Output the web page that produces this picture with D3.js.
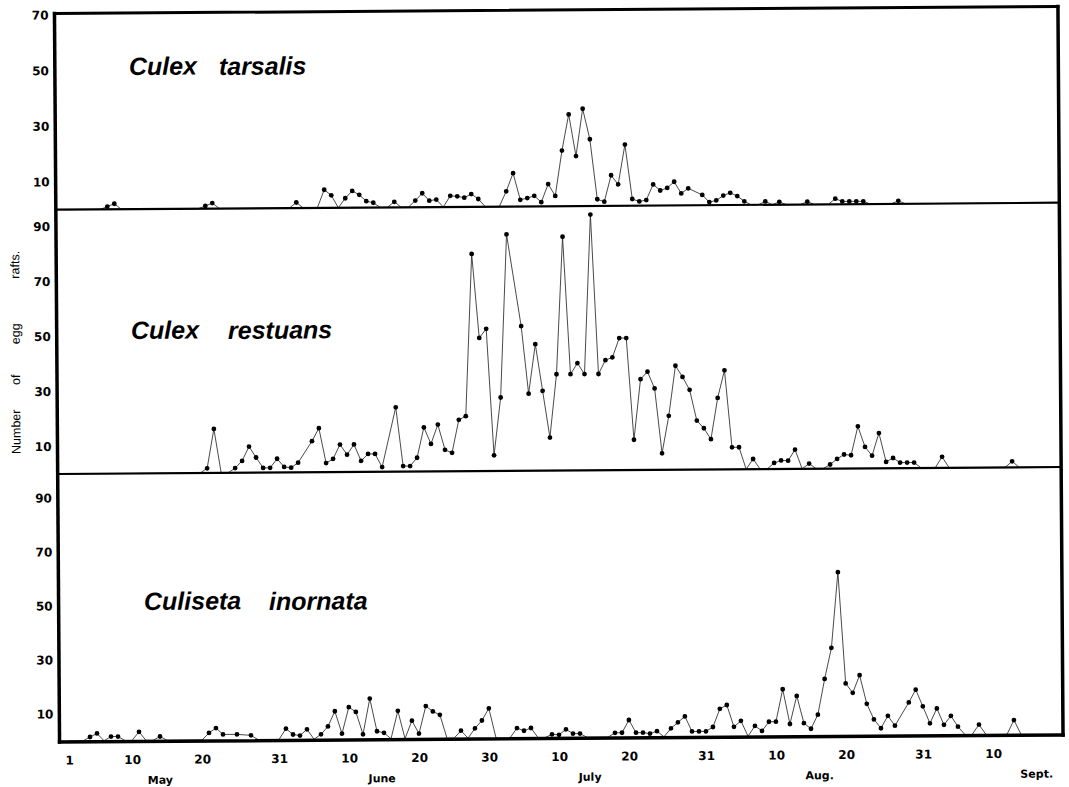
<!DOCTYPE html>
<html>
<head>
<meta charset="utf-8">
<script src="https://cdn.jsdelivr.net/npm/d3@7"></script>
<style>
html,body{margin:0;padding:0;background:#fff;}
svg{display:block;}
.num{font-family:"DejaVu Sans",sans-serif;font-weight:bold;font-size:12px;fill:#000;}
.mon{font-family:"DejaVu Sans",sans-serif;font-weight:bold;font-size:11px;fill:#000;}
.sp{font-family:"Liberation Sans",Arial,sans-serif;font-weight:bold;font-style:italic;font-size:25px;fill:#000;}
.ttl{font-family:"Liberation Sans",Arial,sans-serif;font-size:12.5px;fill:#000;}
</style>
</head>
<body>
<svg id="chart" width="1069" height="787"></svg>
<script>
// ---- data (day index 0 = 1 May) ----
const dayTicks = [0, 9, 19, 30, 40, 50, 60, 70, 80, 91, 101, 111, 122, 132];
const dayTickLabels = ["1","10","20","31","10","20","30","10","20","31","10","20","31","10"];
const months = ["May", "June", "July", "Aug.", "Sept."];
const monthDays = [13, 44.7, 74.4, 107.2, 138.2];
const yTicksTarsalis = [10, 30, 50, 70];
const yTicksRestuans = [10, 30, 50, 70, 90];
const yTicksInornata = [10, 30, 50, 70, 90];
const speciesNames = [["Culex", "tarsalis"], ["Culex", "restuans"], ["Culiseta", "inornata"]];
const axisTitleWords = ["Number", "of", "egg", "rafts."];

const tarsalis = [
 0,0,0,0,0,0,1,2,0,0,
 0,0,0,0,0,0,0,0,0,0,
 1,2,0,0,0,0,0,0,0,0,
 0,0,0,2,0,0,0,6.5,4.5,0,
 3.4,6,4.6,2.3,1.7,0,0,2,0,0,
 2.4,5,2.3,2.7,0,4,3.8,3.3,4.6,2.8,
 0,0,0,5.5,12,2.4,3,3.8,1.5,8,
 3.7,20,33,18,35,24,2.4,1.5,11,7.7,
 22,2.4,1.5,2,7.6,5.4,6.3,8.5,4.3,6.1,
 null,3.7,1.1,1.7,3.4,4.4,3.2,1.3,0,0,
 1.2,0,1,0,0,0,1,0,0,0,
 2,1,1,1,1,0,0,0,0,1.1,
 0,0,0,0,0,0,0,0,0,0,
 0,0,0,0,0,0,0];

const restuans = [
 0,0,0,0,0,0,0,0,0,0,
 0,0,0,0,0,0,0,0,0,0,
 1.7,16,0,0,1.7,4.3,9.5,5.5,1.7,1.7,
 5,2,1.7,3.5,null,11.3,16,3.3,4.8,10,
 6.3,10,4,6.5,6.5,1.7,null,23.4,2,2,
 5,16,10,17,7.8,6.7,18.7,20,79,48.4,
 51.7,5.7,26.7,86,null,52.6,28,46,29,12,
 35,85,35,39,35,93,35,40,41,48,
 48,11,33,35.7,29.6,6,19.6,37.8,33.7,29,
 17.8,15,11,26,36,8,8,0,3.7,0,
 0,2.2,3.1,3,7,0,1.9,0,0,1.5,
 3.5,5.1,4.8,15.3,7.8,4.6,12.8,2.3,3.7,2,
 2,2,0,0,0,4,0,0,0,0,
 0,0,0,0,0,2.2,0];

const inornata = [
 0,0,0,1.4,2.7,0,1.5,1.5,0,0,
 3.2,0,0,1.4,0,0,0,0,0,0,
 2.6,4.4,2,null,2,null,1.6,0,0,0,
 0,4,1.8,1.4,3.7,0,1.8,4.7,10.3,2,
 11.8,10,1.7,14.9,2.8,2.2,0,10.3,0,6.6,
 1.8,12,10,8.7,0,0,2.8,0,3.6,6.5,
 11,0,0,0,3.6,2.6,3.6,0,0,1.2,
 1,3,1.4,1.4,0,0,0,0,1.6,1.6,
 6.3,1.6,1.6,1.2,2.1,0,3.1,5.3,7.5,1.9,
 1.9,1.9,3.5,10.2,11.6,3.5,5.7,0,3.8,1.9,
 5.3,5.3,17.3,4.4,14.8,4.7,2.6,7.8,21,32.5,
 60.5,19.3,15.8,22.3,11.7,5.9,2.6,7.2,3.5,null,
 12.1,16.8,10.6,4.3,9.8,3.7,7,3,0,0,
 3.7,0,0,0,0,5.3,0];

// ---- layout ----
const svg = d3.select("#chart");
svg.append("rect").attr("width",1069).attr("height",787).attr("fill","#fff");
const root = svg.append("g").attr("transform", "rotate(-0.4,560,375)");
const L = 57, R = 1060.5, T = 10, B = 738.5;
const x = d3.scaleLinear().domain([0, 140]).range([66.5, 66.5 + 980]);

const panels = [
  {values: tarsalis, ticks: yTicksTarsalis, base: 206.2, top: T, k: 2.78, name: speciesNames[0], pos: [[131, 72], [221, 72.6]]},
  {values: restuans, ticks: yTicksRestuans, base: 470.5, top: 206.2, k: 2.75, name: speciesNames[1], pos: [[131.3, 336], [228.3, 336.7]]},
  {values: inornata, ticks: yTicksInornata, base: 737.5, top: 470.5, k: 2.7, name: speciesNames[2], pos: [[142.4, 607], [267.4, 608]]}
];

panels.forEach(p => {
  const y = d3.scaleLinear().domain([0, (p.base - p.top) / p.k]).range([p.base, p.top]);
  const pts = p.values.map((v, i) => ({d: i, v: v})).filter(o => o.v !== null);
  root.append("path").datum(pts)
    .attr("d", d3.line().x(o => x(o.d)).y(o => y(o.v)))
    .attr("fill", "none").attr("stroke", "#2a2a2a").attr("stroke-width", 0.85)
    .attr("stroke-linejoin", "miter");
  root.append("g").selectAll("circle").data(pts.filter(o => o.v > 0)).join("circle")
    .attr("cx", o => x(o.d)).attr("cy", o => y(o.v)).attr("r", 2.4).attr("fill", "#000");
  const ax = d3.axisLeft(y).tickValues(p.ticks).tickSize(0).tickPadding(6).tickFormat(d3.format("d"));
  const ga = root.append("g").attr("transform", `translate(${L},0)`).call(ax);
  ga.select(".domain").remove();
  ga.selectAll("text").attr("class", "num");
  p.name.forEach((w, i) => {
    root.append("text").attr("class", "sp").attr("x", p.pos[i][0]).attr("y", p.pos[i][1]).text(w);
  });
});

// x axis
const xa = d3.axisBottom(x).tickValues(dayTicks).tickSize(0).tickPadding(14)
  .tickFormat((d, i) => dayTickLabels[i]);
const gx = root.append("g").attr("transform", `translate(0,${B})`).call(xa);
gx.select(".domain").remove();
gx.selectAll("text").attr("class", "num");

root.selectAll("text.mon").data(months).join("text").attr("class", "mon")
  .attr("x", (d, i) => x(monthDays[i])).attr("y", 781).attr("text-anchor", "middle").text(d => d);

// axis title
const titleY = [428, 376, 330, 261];
axisTitleWords.forEach((w, i) => {
  root.append("text").attr("class", "ttl").attr("text-anchor", "middle")
    .attr("transform", `translate(20,${titleY[i]}) rotate(-90)`).text(w);
});

// frame
const fr = root.append("g").attr("stroke", "#000").attr("stroke-linecap", "square");
fr.append("line").attr("x1", L).attr("y1", T).attr("x2", R).attr("y2", T).attr("stroke-width", 3);
fr.append("line").attr("x1", R).attr("y1", T).attr("x2", R).attr("y2", B).attr("stroke-width", 3.5);
fr.append("line").attr("x1", L).attr("y1", T).attr("x2", L).attr("y2", B).attr("stroke-width", 3.5);
fr.append("line").attr("x1", L).attr("y1", B).attr("x2", R).attr("y2", B).attr("stroke-width", 3.5);
[panels[0].base, panels[1].base].forEach(yb => {
  fr.append("line").attr("x1", L).attr("y1", yb).attr("x2", R).attr("y2", yb).attr("stroke-width", 2.2).attr("stroke-linecap", "butt");
});
</script>
</body>
</html>
